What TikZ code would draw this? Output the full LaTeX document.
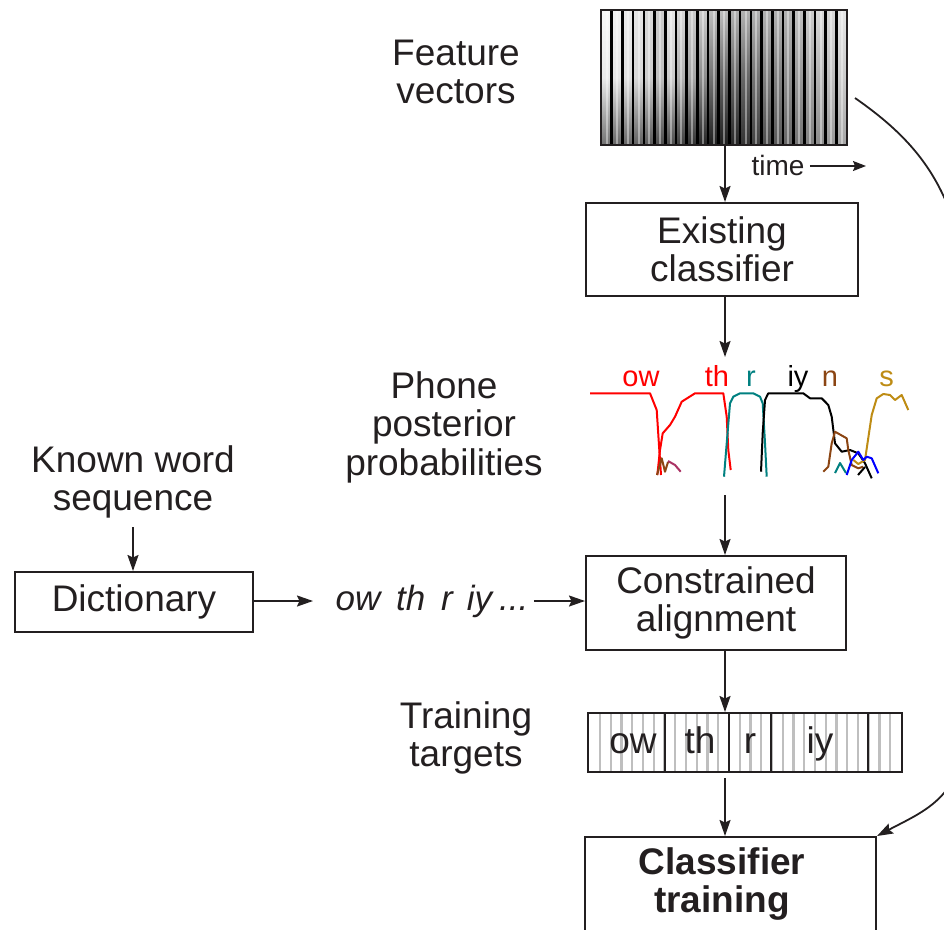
\documentclass[tikz,border=0pt]{standalone}
\usepackage{fontspec}
\setmainfont{Liberation Sans}
\usetikzlibrary{arrows.meta}
\definecolor{tealc}{RGB}{0,128,128}
\definecolor{brownc}{RGB}{139,69,19}
\definecolor{goldc}{RGB}{190,140,20}
\definecolor{purplec}{RGB}{170,50,100}
\definecolor{ink}{RGB}{35,31,32}
\begin{document}
\begin{tikzpicture}[x=1pt,y=-1pt,
  box/.style={draw=ink,line width=2pt,inner sep=0pt},
  big/.style={font=\fontsize{37}{38.5}\selectfont,align=center,text=ink},
  lab/.style={font=\fontsize{29}{30}\selectfont,anchor=base},
  arr/.style={-{Stealth[length=16pt,width=11pt,inset=2.5pt]},line width=1.8pt,draw=ink},
  post/.style={line width=2pt,line join=round}]
\useasboundingbox (0,0) rectangle (944,929);
\clip (0,0) rectangle (944,929);

% ---------- spectrogram ----------
\foreach \i/\t/\m/\b in {0/3/8/55,1/5/10/60,2/8/12/60,3/10/15/62,4/15/20/65,5/20/25/70,6/10/20/70,7/15/30/75,8/20/35/80,9/20/45/85,10/25/55/88,11/25/60/88,12/30/60/85,13/30/60/80,14/30/55/75,15/30/50/70,16/30/50/65,17/30/45/60,18/25/40/55,19/20/35/50,20/15/30/45,21/15/25/40,22/10/20/35}{
  \pgfmathsetmacro{\xa}{601+10.7*\i}
  \shade[top color=black!\t,bottom color=black!\b,middle color=black!\m] (\xa,10) rectangle (\xa+10.9,145);
  \fill[white,opacity=0.4] (\xa+4.5,10) rectangle (\xa+6.5,145);
}
\foreach \i in {1,...,22}{
  \pgfmathsetmacro{\xa}{601+10.7*\i}
  \draw[line width=2.6pt,black] (\xa,10) -- (\xa,145);
}
\node[box,minimum width=246pt,minimum height=135pt] (sp) at (724,77.5) {};
\node[big] (fv) at (456,72) {Feature\\vectors};
\node[font=\fontsize{28}{30}\selectfont,text=ink,anchor=base] (time) at (778,175) {time};
\coordinate (timeend) at (866,166);
\draw[-{Stealth[length=13pt,width=10pt,inset=2pt]},line width=1.4pt,ink] (time.east |- timeend) ++(2,0) -- (timeend);

% ---------- existing classifier ----------
\node[box,big,minimum width=272pt,minimum height=93pt] (ec) at (722,249.5) {Existing\\classifier};
\draw[arr] (sp.south -| 725,0) -- (ec.north -| 725,0);
\coordinate (pptop) at (725,357);
\draw[arr] (ec.south -| 725,0) -- (pptop);

% ---------- posteriors ----------
\node[big] (ppp) at (444,427) {Phone\\posterior\\probabilities};
\node[lab,red] (lo) at (641,386) {ow};
\node[lab,red] (lt) at (717,386) {th};
\node[lab,tealc] (lr) at (751,386) {r};
\node[lab,black] (li) at (798,386) {iy};
\node[lab,brownc] (ln) at (830,386) {n};
\node[lab,goldc] (ls) at (886.5,386) {s};
\draw[post,red] (590,393.3) -- (650,393.3) -- (656.7,410) -- (659.3,450) -- (661,475);
\draw[post,red] (657.3,475) -- (660,450) -- (662.7,433.3) -- (670,425) -- (675,416.7) -- (681.7,401.7) -- (695,393.3) -- (723.3,393.3) -- (726.7,416.7) -- (728.3,450) -- (730.7,470);
\draw[post,brownc] (657,475) -- (661.7,458.3) -- (665,471.7) -- (668,462);
\draw[post,purplec] (668,461) -- (675,465) -- (680.7,471.7);
\draw[post,tealc] (724,476.7) -- (726.7,443.3) -- (730,403.3) -- (733.3,396.7) -- (740,393.3) -- (753.3,393.3) -- (760,396.7) -- (762.7,403.3) -- (765,443) -- (766.7,476.7);
\draw[post,black] (761,471.7) -- (762.7,433) -- (765,400) -- (768.3,393.3) -- (803.3,393.3) -- (810,398.3) -- (821.7,398.3) -- (828.3,405) -- (831.7,416.7) -- (835,443.3) -- (841.7,451.7) -- (850,450) -- (858.3,453.3) -- (865,463.3) -- (871.7,478.3);
\draw[post,brownc] (823.3,471.7) -- (828.3,466.7) -- (831.7,443.3) -- (835,431.7) -- (846.7,438.3) -- (848.3,450) -- (851.7,465) -- (858.3,468.3) -- (863.3,466.7);
\draw[post,tealc] (835,473) -- (840,463) -- (846,473);
\draw[post,goldc] (853.3,460) -- (858.3,464) -- (865,460) -- (871.7,415) -- (876.7,398.3) -- (883.3,394) -- (890,395) -- (895,400) -- (901.7,395) -- (908.3,410);
\draw[post,blue] (846.7,475) -- (851.7,460) -- (858.3,451.7) -- (863.3,460) -- (866.7,456.7) -- (871.7,458.3) -- (878.3,473.3);
\draw[post,black] (858,475) -- (865,467);

% ---------- constrained alignment ----------
\node[box,big,minimum width=260pt,minimum height=94pt] (ca) at (716,603) {Constrained\\alignment};
\coordinate (ppbot) at (725,495);
\draw[arr] (ppbot) -- (ca.north -| 725,0);

% ---------- dictionary ----------
\node[big] (kw) at (133,482) {Known word\\sequence};
\node[box,big,minimum width=238pt,minimum height=60pt] (dict) at (134,602) {Dictionary};
\draw[arr] (133,527) -- (dict.north -| 133,0);
\node[font=\fontsize{35}{36}\selectfont\itshape,text=ink] (seq) at (432,601) {ow\hspace{0.45em}th\hspace{0.45em}r\hspace{0.4em}iy\hspace{0.2em}...};
\draw[arr] (dict.east |- 0,601) -- (313,601);
\draw[arr] (seq.east |- 0,601) ++(2,0) -- (ca.west |- 0,601);

% ---------- training targets ----------
\node[big] (tgl) at (466,738) {Training\\targets};
\foreach \k in {0,...,27}{
  \draw[gray!50,line width=2.2pt] (600+10.75*\k,713) -- (600+10.75*\k,772);
}
\node[box,minimum width=314pt,minimum height=59pt] (tt) at (745,742.5) {};
\foreach \xx in {665,729,771,868}{
  \draw[ink,line width=2pt] (\xx,713) -- (\xx,772);
}
\node[big,anchor=base] (t1) at (633,753) {ow};
\node[big,anchor=base] (t2) at (700,753) {th};
\node[big,anchor=base] (t3) at (750,753) {r};
\node[big,anchor=base] (t4) at (820,753) {iy};
\draw[arr] (ca.south -| 725,0) -- (tt.north -| 725,0);

% ---------- classifier training ----------
\node[box,minimum width=291pt,minimum height=130pt] (ct) at (730.5,902) {};
\node[big,font=\fontsize{37}{38.5}\selectfont\bfseries] (ctl) at (722,884) {Classifier\\training};
\coordinate (ttb) at (725,778);
\draw[arr] (ttb) -- (ct.north -| 725,0);

% ---------- feedback curve ----------
\coordinate (fbs) at (855,98);
\draw[arr] (fbs) .. controls (915,140) and (963,190) .. (968,310) -- (968,700) .. controls (970,795) and (930,808) .. (ct.north east);
\end{tikzpicture}
\end{document}
